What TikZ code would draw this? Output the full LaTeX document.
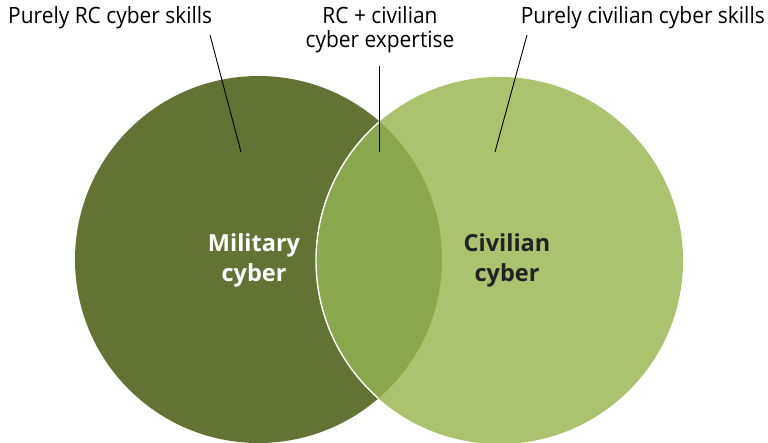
\documentclass[tikz,border=0pt]{standalone}
\usepackage{fontspec}
\setmainfont{Open Sans}
\newfontfamily\lblfont[FakeStretch=0.93]{Open Sans}
\definecolor{milgreen}{HTML}{637333}
\definecolor{civgreen}{HTML}{ABC26E}
\definecolor{midgreen}{HTML}{8AA74E}
\definecolor{darktext}{HTML}{222222}
\begin{document}
\begin{tikzpicture}[x=1pt,y=-1pt,
  lbl/.style={font=\lblfont\fontsize{22.5}{24}\selectfont, inner sep=0pt, text=black},
  biglbl/.style={font=\bfseries\fontsize{23.5}{30}\selectfont, align=center, inner sep=0pt},
  leader/.style={draw=black, line width=0.9pt}]
\useasboundingbox (0,0) rectangle (768,443);
\coordinate (L) at (258.5,259.5);
\coordinate (R) at (499.5,260.5);
\fill[milgreen] (L) circle (183.5);
\fill[civgreen] (R) circle (183.5);
\begin{scope}
  \clip (L) circle (183.5);
  \fill[midgreen] (R) circle (183.5);
  \draw[white, line width=1.4pt] (R) circle (183.5);
\end{scope}
\node[biglbl, text=white] (mil) at (254,260) {Military\\cyber};
\node[biglbl, text=darktext] (civ) at (507,260) {Civilian\\cyber};
\node[lbl, anchor=west] (rc) at (8,18) {Purely RC cyber skills};
\node[lbl, align=center] (both) at (380,30) {RC + civilian\\cyber expertise};
\node[lbl, anchor=east] (pc) at (765,18) {Purely civilian cyber skills};
\coordinate (rcs) at (210,35);
\coordinate (rce) at (241,152);
\coordinate (bs) at (379.5,66);
\coordinate (be) at (379.5,152);
\coordinate (pcs) at (527,35);
\coordinate (pce) at (495,152);
\draw[leader] (rcs) -- (rce);
\draw[leader] (bs) -- (be);
\draw[leader] (pcs) -- (pce);
\end{tikzpicture}
\end{document}
